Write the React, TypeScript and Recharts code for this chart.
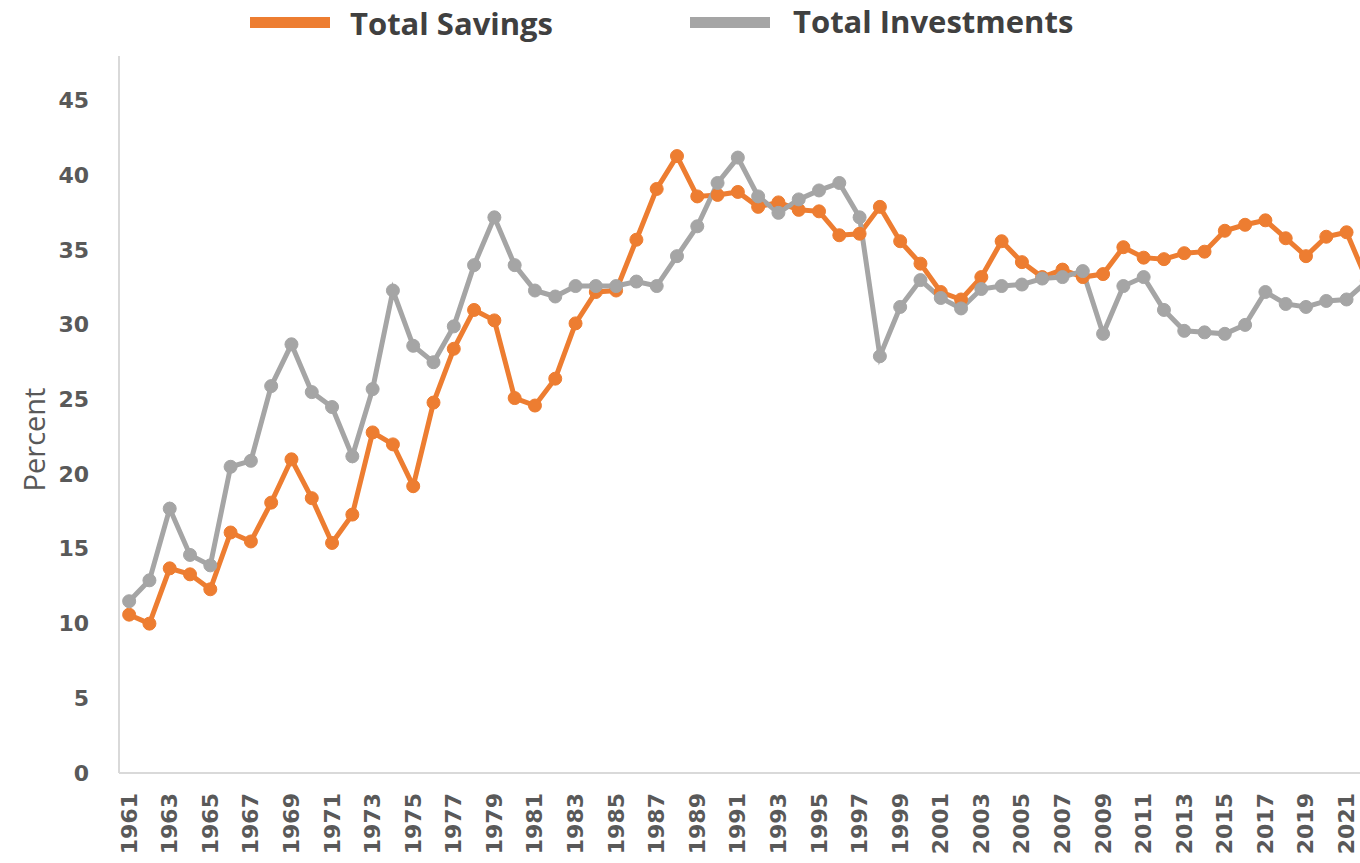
import { LineChart, Line, XAxis, YAxis, Legend } from "recharts";

const years = [
  1961, 1962, 1963, 1964, 1965, 1966, 1967, 1968, 1969, 1970,
  1971, 1972, 1973, 1974, 1975, 1976, 1977, 1978, 1979, 1980,
  1981, 1982, 1983, 1984, 1985, 1986, 1987, 1988, 1989, 1990,
  1991, 1992, 1993, 1994, 1995, 1996, 1997, 1998, 1999, 2000,
  2001, 2002, 2003, 2004, 2005, 2006, 2007, 2008, 2009, 2010,
  2011, 2012, 2013, 2014, 2015, 2016, 2017, 2018, 2019, 2020,
  2021, 2022,
];

const totalSavings = [
  10.6, 10.0, 13.7, 13.3, 12.3, 16.1, 15.5, 18.1, 21.0, 18.4,
  15.4, 17.3, 22.8, 22.0, 19.2, 24.8, 28.4, 31.0, 30.3, 25.1,
  24.6, 26.4, 30.1, 32.2, 32.3, 35.7, 39.1, 41.3, 38.6, 38.7,
  38.9, 37.9, 38.2, 37.7, 37.6, 36.0, 36.1, 37.9, 35.6, 34.1,
  32.2, 31.7, 33.2, 35.6, 34.2, 33.2, 33.7, 33.2, 33.4, 35.2,
  34.5, 34.4, 34.8, 34.9, 36.3, 36.7, 37.0, 35.8, 34.6, 35.9,
  36.2, 33.0,
];

const totalInvestments = [
  11.5, 12.9, 17.7, 14.6, 13.9, 20.5, 20.9, 25.9, 28.7, 25.5,
  24.5, 21.2, 25.7, 32.3, 28.6, 27.5, 29.9, 34.0, 37.2, 34.0,
  32.3, 31.9, 32.6, 32.6, 32.6, 32.9, 32.6, 34.6, 36.6, 39.5,
  41.2, 38.6, 37.5, 38.4, 39.0, 39.5, 37.2, 27.9, 31.2, 33.0,
  31.8, 31.1, 32.4, 32.6, 32.7, 33.1, 33.2, 33.6, 29.4, 32.6,
  33.2, 31.0, 29.6, 29.5, 29.4, 30.0, 32.2, 31.4, 31.2, 31.6,
  31.7, 32.9,
];

const yearTicks = [
  1961, 1963, 1965, 1967, 1969, 1971, 1973, 1975, 1977, 1979,
  1981, 1983, 1985, 1987, 1989, 1991, 1993, 1995, 1997, 1999,
  2001, 2003, 2005, 2007, 2009, 2011, 2013, 2015, 2017, 2019, 2021,
];

const percentTicks = [0, 5, 10, 15, 20, 25, 30, 35, 40, 45];

const ORANGE = "#ED7D31";
const GRAY = "#A5A5A5";
const LABEL = "#595959";
const AXIS = "#D9D9D9";

const data = years.map((year, i) => ({
  year,
  savings: totalSavings[i],
  investments: totalInvestments[i],
}));

const YTick = (props: any) => {
  const { x, y, payload } = props;
  return (
    <text
      x={x}
      y={y}
      textAnchor="end"
      dominantBaseline="central"
      fill={LABEL}
      fontFamily="'DejaVu Sans', Verdana, sans-serif"
      fontWeight="bold"
      fontSize={22}
    >
      {payload.value}
    </text>
  );
};

const XTick = (props: any) => {
  const { x, y, payload } = props;
  return (
    <text
      x={x}
      y={y}
      transform={`rotate(-90, ${x}, ${y})`}
      textAnchor="end"
      dominantBaseline="central"
      fill={LABEL}
      fontFamily="'DejaVu Sans', Verdana, sans-serif"
      fontWeight="bold"
      fontSize={22}
    >
      {payload.value}
    </text>
  );
};

const PercentLabel = (props: any) => {
  const { viewBox } = props;
  const x = viewBox.x + 33;
  const y = viewBox.y + viewBox.height / 2 + 25;
  return (
    <text
      x={x}
      y={y}
      transform={`rotate(-90, ${x}, ${y})`}
      textAnchor="middle"
      dominantBaseline="central"
      fill={LABEL}
      fontFamily="'Open Sans', sans-serif"
      fontSize={29}
    >
      Percent
    </text>
  );
};

const renderLegend = () => (
  <svg width={1360} height={50}>
    <rect x={250} y={17} width={80} height={11} fill={ORANGE} />
    <text
      x={350}
      y={35}
      fill="#404040"
      fontFamily="'Open Sans', sans-serif"
      fontWeight="bold"
      fontSize={31}
    >
      Total Savings
    </text>
    <rect x={690} y={17} width={80} height={11} fill={GRAY} />
    <text
      x={793}
      y={33}
      fill="#404040"
      fontFamily="'Open Sans', sans-serif"
      fontWeight="bold"
      fontSize={31}
    >
      Total Investments
    </text>
  </svg>
);

export default function App() {
  return (
    <div
      style={{
        position: "fixed",
        left: 0,
        top: 0,
        width: 1360,
        height: 863,
        overflow: "hidden",
        background: "#fff",
      }}
    >
      <LineChart
        width={1400}
        height={863}
        data={data}
        margin={{ top: 56, right: 23, bottom: 0, left: 0 }}
      >
        <XAxis
          dataKey="year"
          type="number"
          domain={[1960.5, 2022.5]}
          ticks={yearTicks}
          interval={0}
          height={90}
          tickSize={0}
          tickMargin={20}
          tick={<XTick />}
          axisLine={{ stroke: AXIS, strokeWidth: 2 }}
          tickLine={false}
        />
        <YAxis
          type="number"
          domain={[0, 48]}
          ticks={percentTicks}
          interval={0}
          width={119}
          tickSize={0}
          tickMargin={30}
          tick={<YTick />}
          axisLine={{ stroke: AXIS, strokeWidth: 2 }}
          tickLine={false}
          label={<PercentLabel />}
        />
        <Legend
          verticalAlign="middle"
          align="center"
          layout="horizontal"
          wrapperStyle={{ position: "absolute", top: 0, left: 0, width: 1360, height: 50 }}
          content={renderLegend}
        />
        <Line
          type="linear"
          dataKey="savings"
          name="Total Savings"
          stroke={ORANGE}
          strokeWidth={5}
          dot={{ r: 6.5, fill: ORANGE, stroke: ORANGE, strokeWidth: 1 }}
          activeDot={false}
          isAnimationActive={false}
        />
        <Line
          type="linear"
          dataKey="investments"
          name="Total Investments"
          stroke={GRAY}
          strokeWidth={5}
          dot={{ r: 6.5, fill: GRAY, stroke: GRAY, strokeWidth: 1 }}
          activeDot={false}
          isAnimationActive={false}
        />
      </LineChart>
    </div>
  );
}
